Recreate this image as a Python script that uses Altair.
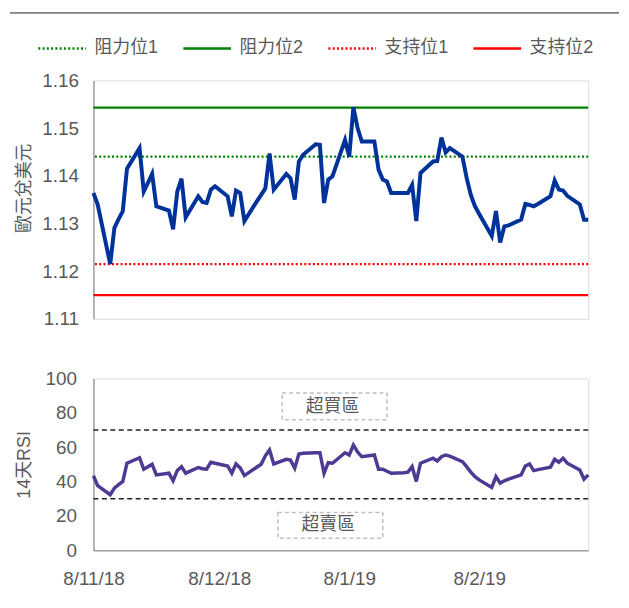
import altair as alt
import pandas as pd

# ---------------- data ----------------
months = ["2018-11", "2018-12", "2019-01", "2019-02", "2019-03"]
trading_days = [
    [8, 9, 12, 13, 14, 15, 16, 19, 20, 21, 22, 23, 26, 27, 28, 29, 30],
    [3, 4, 5, 6, 7, 10, 11, 12, 13, 14, 17, 18, 19, 20, 21, 24, 25, 26, 27, 28, 31],
    [1, 2, 3, 4, 7, 8, 9, 10, 11, 14, 15, 16, 17, 18, 21, 22, 23, 24, 25, 28, 29, 30, 31],
    [1, 4, 5, 6, 7, 8, 11, 12, 13, 14, 15, 18, 19, 20, 21, 22, 25, 26, 27, 28],
    [1, 4, 5, 6],
]
dates = [f"{m}-{d:02d}" for m, days in zip(months, trading_days) for d in days]

eurusd = [
    1.1364, 1.1340, 1.1215, 1.1291, 1.1309, 1.1326, 1.1415, 1.1458, 1.1367, 1.1385,
    1.1404, 1.1336, 1.1327, 1.1288, 1.1367, 1.1394, 1.1313,
    1.1357, 1.1345, 1.1343, 1.1371, 1.1378, 1.1357, 1.1315, 1.1369, 1.1364, 1.1305,
    1.1347, 1.1360, 1.1374, 1.1447, 1.1371, 1.1404, 1.1395, 1.1350, 1.1430, 1.1444, 1.1466,
    1.1465, 1.1343, 1.1392, 1.1399, 1.1475, 1.1440, 1.1544, 1.1500, 1.1472, 1.1472,
    1.1413, 1.1392, 1.1388, 1.1364, 1.1364, 1.1364, 1.1381, 1.1305, 1.1406, 1.1430,
    1.1431, 1.1480, 1.1449,
    1.1458, 1.1440, 1.1396, 1.1360, 1.1336, 1.1320, 1.1274, 1.1326, 1.1260, 1.1294,
    1.1296, 1.1308, 1.1341, 1.1339, 1.1336, 1.1341, 1.1357, 1.1390, 1.1371, 1.1369,
    1.1358, 1.1340, 1.1308, 1.1308,
]

rsi = [
    43.4, 37.6, 32.4, 36.2, 38.2, 40.1, 50.7, 53.9, 47.2, 48.6, 50.1, 43.9, 44.9, 40.5,
    46.5, 48.7, 44.9,
    48.2, 47.5, 47.2, 51.3, 50.7, 49.1, 44.9, 50.3, 48.0, 43.5, 48.5, 50.1, 55.0, 58.4,
    50.3, 53.0, 52.5, 47.8, 56.1, 56.5, 56.8,
    56.8, 44.9, 51.0, 50.7, 56.8, 55.5, 61.3, 57.2, 54.5, 55.5, 47.2, 47.2, 46.0, 44.9,
    45.2, 45.5, 48.7, 40.1, 50.7, 53.6, 52.0, 54.5, 55.5,
    54.8, 51.6, 48.7, 45.5, 42.9, 41.0, 36.6, 42.9, 39.1, 40.5, 41.4, 43.9, 49.1, 50.3,
    46.4, 47.0, 48.4, 53.0, 51.3, 53.6,
    50.7, 46.8, 41.4, 43.9,
]

level_names = ["阻力位1", "阻力位2", "支持位1", "支持位2"]
level_values = [1.1440, 1.1543, 1.1215, 1.1150]
level_colors = ["#008000", "#008000", "#FF0000", "#FF0000"]
level_dashes = [[2, 2.3], [1, 0], [2, 2.3], [1, 0]]

rsi_bands = [70, 30]

zone_labels = ["超買區", "超賣區"]
zone_start = ["2018-12-23", "2018-12-22"]
zone_end = ["2019-01-17", "2019-01-16"]
zone_mid = ["2019-01-04", "2019-01-03"]
zone_top = [91.5, 22.0]
zone_bottom = [76.0, 7.0]
zone_text_y = [83.5, 14.5]

tick_dates = [(2018, 11, 8), (2018, 12, 8), (2019, 1, 8), (2019, 2, 8)]
x_start = (2018, 11, 8)
x_end = (2019, 3, 6)

# ---------------- styling ----------------
FONT = "Liberation Sans, Noto Sans CJK TC, sans-serif"
GRAY = "#595959"
AXIS_GRAY = "#A0A0A0"
TICK_FS = 19


def dt(t):
    return alt.DateTime(year=t[0], month=t[1], date=t[2], utc=True)


x_scale = alt.Scale(type="utc", domain=[dt(x_start), dt(x_end)])

price_df = pd.DataFrame({"date": dates, "price": eurusd})
rsi_df = pd.DataFrame({"date": dates, "rsi": rsi})
lev_df = pd.DataFrame({"name": level_names, "value": level_values})
band_df = pd.DataFrame({"band": rsi_bands})
zone_df = pd.DataFrame({
    "label": zone_labels, "start": zone_start, "end": zone_end, "mid": zone_mid,
    "top": zone_top, "bottom": zone_bottom, "ty": zone_text_y,
})

y_price = alt.Scale(domain=[1.11, 1.16], nice=False, zero=False)

price_axis = alt.Axis(
    values=[1.11, 1.12, 1.13, 1.14, 1.15, 1.16], format=".2f", title="歐元兌美元",
    labelFontSize=TICK_FS, labelColor=GRAY, labelFont=FONT, ticks=False, tickSize=0,
    domainColor=AXIS_GRAY, domainWidth=1.5, grid=False, labelPadding=15,
    labelOverlap=False,
    titleFontSize=18, titleColor=GRAY, titleFont=FONT, titleFontWeight="normal",
    titlePadding=8, titleY=108,
)

legend = alt.Legend(
    title=None, orient="none", legendX=-57, legendY=-58, direction="horizontal",
    columns=4, symbolType="stroke", symbolSize=2304, symbolStrokeWidth=2.5,
    labelFontSize=18, labelColor=GRAY, labelFont=FONT, labelOffset=7,
    columnPadding=19,
)

level_rules = alt.Chart(lev_df).mark_rule(strokeWidth=2.3).encode(
    y=alt.Y("value:Q", scale=y_price, axis=price_axis),
    color=alt.Color("name:N", scale=alt.Scale(domain=level_names, range=level_colors), legend=legend),
    strokeDash=alt.StrokeDash("name:N", scale=alt.Scale(domain=level_names, range=level_dashes), legend=legend),
)

price_line = alt.Chart(price_df).mark_line(color="#003399", strokeWidth=4).encode(
    x=alt.X("date:T", scale=x_scale, axis=None),
    y=alt.Y("price:Q", scale=y_price, axis=price_axis),
)

sep_df = pd.DataFrame({"k": [0]})
separator = alt.Chart(sep_df).mark_rule(color="#808080", strokeWidth=2).encode(
    x=alt.value(-84), x2=alt.value(529), y=alt.value(-68)
)

top = alt.layer(level_rules, price_line, separator).properties(width=498, height=240)

# bottom panel
rsi_axis = alt.Axis(
    values=[0, 20, 40, 60, 80, 100], title="14天RSI",
    labelFontSize=TICK_FS, labelColor=GRAY, labelFont=FONT, ticks=False, tickSize=0,
    domainColor=AXIS_GRAY, domainWidth=1.5, grid=False, labelPadding=17,
    labelOverlap=False,
    titleFontSize=18, titleColor=GRAY, titleFont=FONT, titleFontWeight="normal",
    titlePadding=12,
)
x_axis = alt.Axis(
    values=[dt(t) for t in tick_dates], format="%-d/%-m/%y", title=None,
    labelFontSize=TICK_FS, labelColor=GRAY, labelFont=FONT, ticks=False, tickSize=0,
    domainColor=AXIS_GRAY, domainWidth=1.5, grid=False, labelPadding=19,
    labelOverlap=False, labelFlush=False,
)
y_rsi = alt.Scale(domain=[0, 100], nice=False)

rsi_line = alt.Chart(rsi_df).mark_line(color="#4E3A94", strokeWidth=3.5).encode(
    x=alt.X("date:T", scale=x_scale, axis=x_axis),
    y=alt.Y("rsi:Q", scale=y_rsi, axis=rsi_axis),
)
bands = alt.Chart(band_df).mark_rule(color="#222222", strokeWidth=1.5, strokeDash=[5, 3.5]).encode(
    y=alt.Y("band:Q", scale=y_rsi, axis=rsi_axis)
)
zone_boxes = alt.Chart(zone_df).mark_rect(
    fill="white", fillOpacity=0, stroke="#BFBFBF", strokeWidth=1.5, strokeDash=[4, 3]
).encode(
    x=alt.X("start:T", scale=x_scale, axis=x_axis), x2="end:T",
    y=alt.Y("top:Q", scale=y_rsi, axis=rsi_axis), y2="bottom:Q",
)
zone_text = alt.Chart(zone_df).mark_text(
    fontSize=18, font=FONT, color=GRAY, align="center", baseline="middle"
).encode(
    x=alt.X("mid:T", scale=x_scale, axis=x_axis),
    y=alt.Y("ty:Q", scale=y_rsi, axis=rsi_axis), text="label:N"
)

bottom = alt.layer(rsi_line, bands, zone_boxes, zone_text).properties(width=498, height=173)

chart = alt.vconcat(top, bottom, spacing=39).properties(
    padding={"left": 0, "top": 1, "right": 0, "bottom": 0}
).configure_view(stroke=None).configure(font=FONT)

chart.save("out.html", embed_options={"renderer": "svg", "actions": False})
